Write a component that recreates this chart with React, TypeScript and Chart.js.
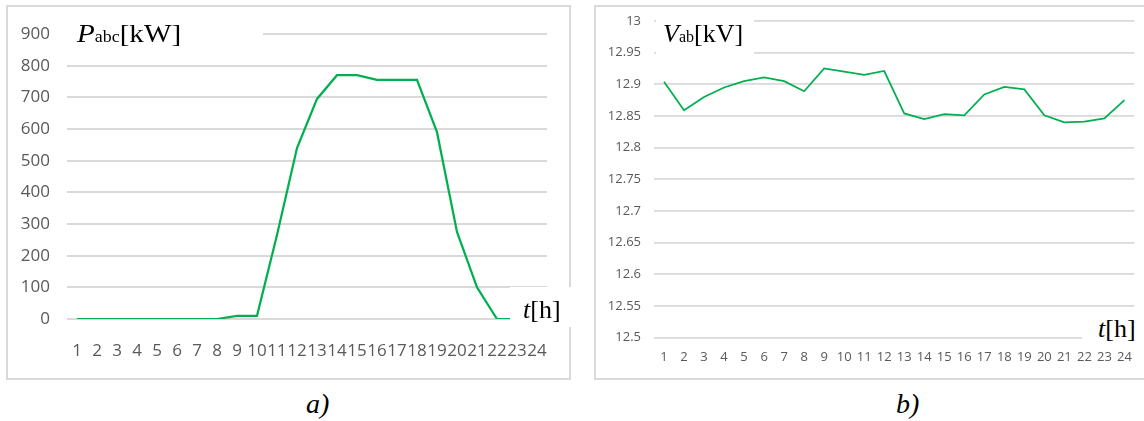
import React, { useEffect, useRef } from 'react';
import { Chart, registerables } from 'chart.js';

Chart.register(...registerables);

// ---- data ----
const hours = ['1', '2', '3', '4', '5', '6', '7', '8', '9', '10', '11', '12', '13', '14', '15', '16', '17', '18', '19', '20', '21', '22', '23', '24'];
const powerKW = [0, 0, 0, 0, 0, 0, 0, 0, 10, 10, 265, 540, 695, 770, 770, 755, 755, 755, 590, 275, 100, 0, 0, 0];
const voltageKV = [12.904, 12.859, 12.88, 12.895, 12.905, 12.911, 12.905, 12.889, 12.925, 12.92, 12.915, 12.921, 12.854, 12.845, 12.853, 12.851, 12.884, 12.896, 12.892, 12.851, 12.84, 12.841, 12.846, 12.875];
const powerAxis = { min: 0, max: 900, step: 100 };
const voltageAxis = { min: 12.5, max: 13, step: 0.05 };

const GREEN = '#00b050';
const GRID = '#d9d9d9';
const TICK = '#595959';

function useChart(ref: React.RefObject<HTMLCanvasElement>, makeConfig: () => any) {
  useEffect(() => {
    if (!ref.current) return;
    const chart = new Chart(ref.current, makeConfig());
    return () => chart.destroy();
  }, []);
}

function powerConfig() {
  return {
    type: 'line',
    data: {
      labels: hours,
      datasets: [{ data: powerKW, borderColor: GREEN, borderWidth: 2.25, pointRadius: 0, tension: 0, fill: false }],
    },
    options: {
      animation: false,
      responsive: false,
      maintainAspectRatio: false,
      layout: { padding: { top: 34, right: 25, left: 0, bottom: 0 } },
      plugins: { legend: { display: false }, tooltip: { enabled: false }, title: { display: false } },
      scales: {
        x: {
          offset: true,
          grid: { display: false, drawTicks: false },
          border: { display: false },
          ticks: { color: TICK, font: { family: 'Open Sans', size: 17 }, padding: 22, maxRotation: 0, autoSkip: false },
          afterFit: (s: any) => { s.height = 61; },
        },
        y: {
          min: powerAxis.min,
          max: powerAxis.max,
          grid: { color: GRID, lineWidth: 2, drawTicks: false },
          border: { display: false },
          ticks: { stepSize: powerAxis.step, color: TICK, font: { family: 'Open Sans', size: 17 }, padding: 17 },
          afterFit: (s: any) => { s.width = 67; },
        },
      },
    },
  };
}

function voltageConfig() {
  return {
    type: 'line',
    data: {
      labels: hours,
      datasets: [{ data: voltageKV, borderColor: GREEN, borderWidth: 1.75, pointRadius: 0, tension: 0, fill: false }],
    },
    options: {
      animation: false,
      responsive: false,
      maintainAspectRatio: false,
      layout: { padding: { top: 21, right: 7, left: 0, bottom: 0 } },
      plugins: { legend: { display: false }, tooltip: { enabled: false }, title: { display: false } },
      scales: {
        x: {
          offset: true,
          grid: { display: false, drawTicks: false },
          border: { display: false },
          ticks: { color: TICK, font: { family: 'Open Sans', size: 13 }, padding: 12, maxRotation: 0, autoSkip: false },
          afterFit: (s: any) => { s.height = 42.5; },
        },
        y: {
          min: voltageAxis.min,
          max: voltageAxis.max,
          grid: { color: GRID, lineWidth: 1.75, drawTicks: false },
          border: { display: false },
          ticks: {
            stepSize: voltageAxis.step,
            color: TICK,
            font: { family: 'Open Sans', size: 13 },
            padding: 13,
            callback: (v: any) => String(parseFloat(Number(v).toFixed(2))),
          },
          afterFit: (s: any) => { s.width = 74; },
        },
      },
    },
  };
}

const serif = "'Liberation Serif', 'Times New Roman', serif";

export default function App() {
  const leftRef = useRef<HTMLCanvasElement>(null);
  const rightRef = useRef<HTMLCanvasElement>(null);
  useChart(leftRef, powerConfig);
  useChart(rightRef, voltageConfig);

  const abs = (l: number, t: number, w: number, h: number, extra: any = {}) => ({
    position: 'absolute' as const, left: l, top: t, width: w, height: h, ...extra,
  });

  return (
    <div style={{ position: 'absolute', left: 0, top: 0, width: 1144, height: 421, background: '#fff', overflow: 'hidden' }}>
      {/* panel borders */}
      <div style={abs(6, 5, 565, 375, { border: `2px solid ${GRID}`, boxSizing: 'border-box' })} />
      <div style={abs(594, 5, 600, 375, { border: `2px solid ${GRID}`, boxSizing: 'border-box' })} />

      <canvas ref={leftRef} width={572} height={380} style={{ position: 'absolute', left: 0, top: 0 }} />
      <canvas ref={rightRef} width={564} height={380} style={{ position: 'absolute', left: 580, top: 0 }} />

      {/* axis titles (white boxes covering gridlines) */}
      <div style={abs(62, 18, 201, 36, { background: '#fff' })} />
      <div style={abs(77, 21, 200, 30, { fontFamily: serif, fontSize: 26, lineHeight: '26px', color: '#000', whiteSpace: 'nowrap', transform: 'scaleX(1.12)', transformOrigin: 'left top' })}>
        <i>P</i><span style={{ fontSize: 16 }}>abc</span>[kW]
      </div>

      <div style={abs(656, 13, 98, 45, { background: '#fff' })} />
      <div style={abs(663, 21, 120, 30, { fontFamily: serif, fontSize: 26, lineHeight: '26px', color: '#000', whiteSpace: 'nowrap' })}>
        <i>V</i><span style={{ fontSize: 16 }}>ab</span>[kV]
      </div>

      <div style={abs(510, 287, 65, 40, { background: '#fff' })} />
      <div style={abs(523, 297, 60, 30, { fontFamily: serif, fontSize: 26, lineHeight: '26px', color: '#000', whiteSpace: 'nowrap' })}>
        <i>t</i>[h]
      </div>

      <div style={abs(1082, 312, 62, 36, { background: '#fff' })} />
      <div style={abs(1098, 316, 60, 30, { fontFamily: serif, fontSize: 26, lineHeight: '26px', color: '#000', whiteSpace: 'nowrap' })}>
        <i>t</i>[h]
      </div>

      {/* panel captions */}
      <div style={abs(306, 390, 40, 30, { fontFamily: serif, fontSize: 28, lineHeight: '28px', fontStyle: 'italic', color: '#000' })}>a)</div>
      <div style={abs(896, 390, 40, 30, { fontFamily: serif, fontSize: 28, lineHeight: '28px', fontStyle: 'italic', color: '#000' })}>b)</div>
    </div>
  );
}
